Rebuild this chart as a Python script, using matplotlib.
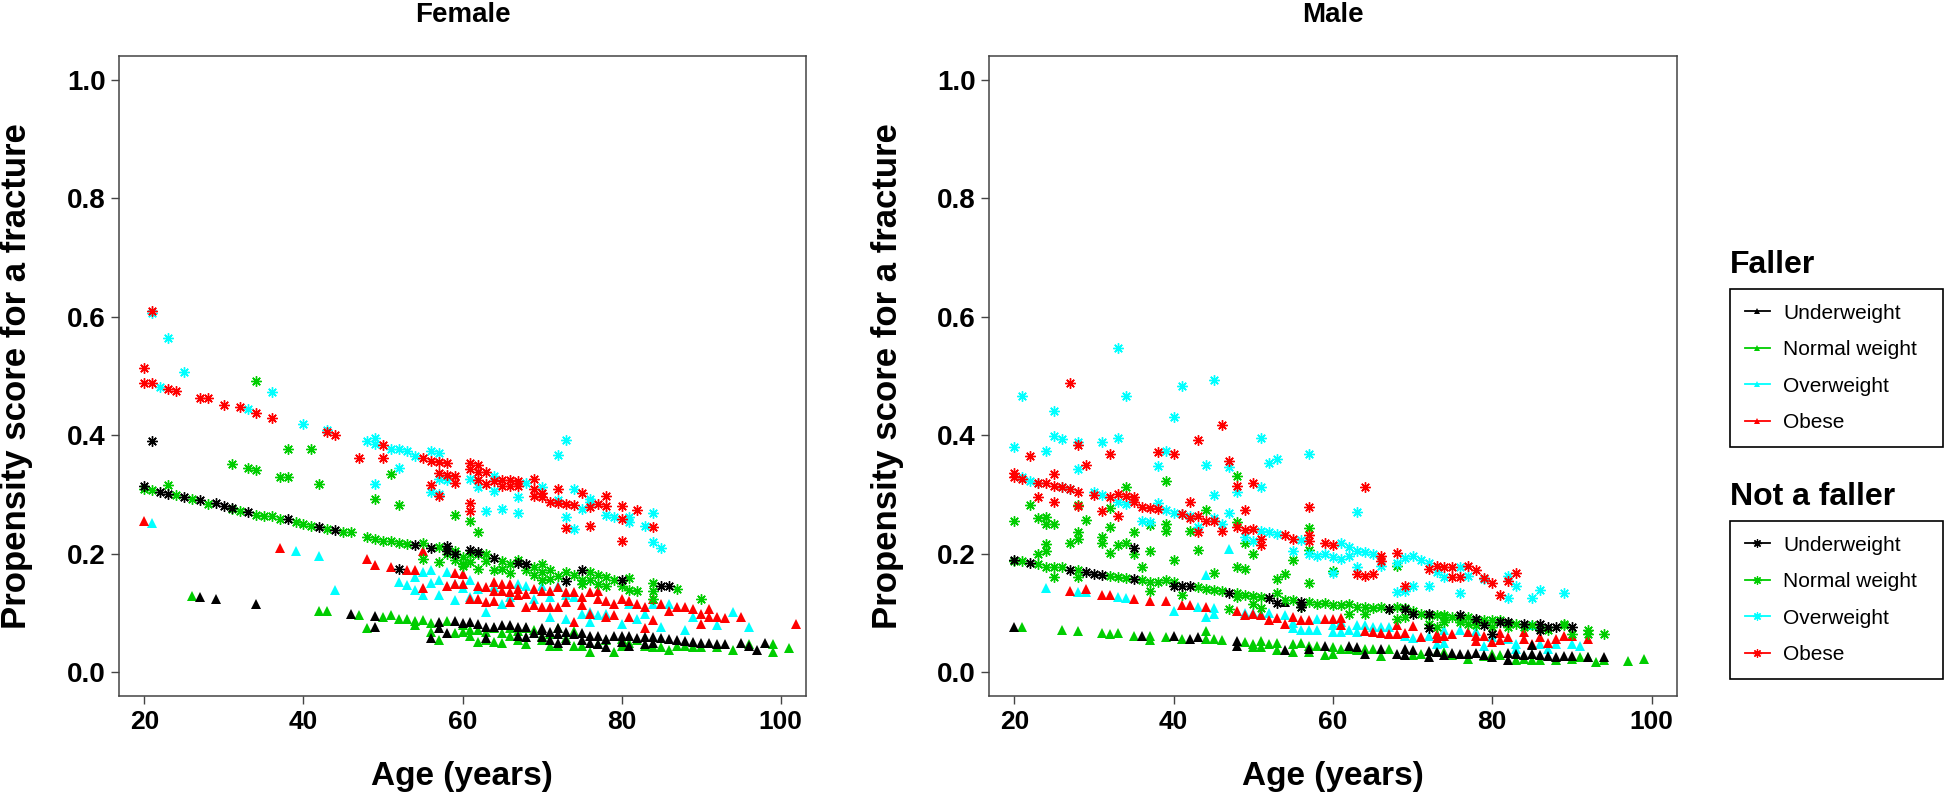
import matplotlib
matplotlib.use('Agg')
import matplotlib.pyplot as plt
from matplotlib.lines import Line2D

# %% Data: (age, propensity score) pairs

# Female, faller (triangles)
f_fall_under = [(27, .127), (29, .124), (34, .116), (46, .099), (49, .095), (49, .076), (56, .058), (57, .085),
                (57, .074), (58, .067), (60, .083), (62, .081), (66, .079), (68, .077), (70, .074), (72, .074),
                (59, .086), (61, .085), (63, .076), (63, .058), (64, .077), (65, .079), (67, .077), (67, .062),
                (68, .059), (69, .066), (70, .072), (70, .059), (71, .068), (71, .054), (72, .064), (72, .049),
                (73, .068), (73, .054), (74, .065), (75, .066), (75, .054), (76, .062), (76, .049), (77, .062),
                (77, .048), (78, .057), (78, .043), (79, .061), (80, .062), (80, .051), (81, .061), (81, .045),
                (82, .058), (83, .059), (83, .048), (84, .059), (84, .049), (85, .058), (86, .057), (87, .054),
                (88, .053), (89, .051), (90, .049), (91, .049), (92, .048), (93, .048), (95, .049), (96, .044),
                (97, .037), (98, .049)]
f_fall_normal = [(26, .128), (42, .104), (43, .103), (47, .096), (48, .074), (50, .093), (51, .096), (52, .090),
                 (53, .090), (54, .086), (54, .079), (55, .088), (56, .083), (56, .068), (57, .054), (58, .086),
                 (59, .066), (60, .079), (60, .068), (61, .072), (61, .061), (62, .072), (62, .051), (63, .068),
                 (63, .054), (64, .074), (64, .051), (65, .066), (65, .049), (66, .075), (66, .061), (67, .070),
                 (67, .054), (68, .074), (68, .048), (69, .071), (70, .061), (70, .054), (71, .065), (71, .045),
                 (72, .074), (72, .045), (73, .058), (74, .070), (74, .044), (75, .045), (76, .034), (77, .048),
                 (78, .055), (79, .034), (80, .044), (80, .057), (81, .049), (82, .055), (83, .045), (84, .043),
                 (85, .042), (86, .038), (87, .044), (88, .044), (89, .043), (90, .043), (92, .043), (94, .038),
                 (96, .047), (99, .048), (99, .034), (101, .041)]
f_fall_over = [(21, .252), (39, .204), (42, .197), (44, .139), (52, .152), (53, .148), (54, .139), (54, .160),
               (55, .130), (55, .169), (56, .172), (56, .150), (57, .155), (57, .130), (58, .169), (59, .149),
               (59, .122), (60, .143), (61, .155), (61, .127), (62, .141), (63, .102), (64, .144), (65, .116),
               (66, .127), (67, .149), (68, .146), (69, .124), (70, .145), (71, .127), (71, .093), (72, .146),
               (73, .130), (73, .090), (74, .127), (75, .099), (76, .102), (76, .085), (77, .096), (78, .099),
               (80, .082), (81, .116), (82, .090), (83, .099), (84, .116), (85, .076), (86, .116), (88, .071),
               (89, .093), (92, .079), (94, .102), (96, .077)]
f_fall_obese = [(20, .255), (37, .210), (48, .191), (49, .181), (51, .177), (53, .173), (54, .172), (55, .204),
                (55, .143), (58, .146), (59, .167), (59, .149), (60, .166), (60, .149), (61, .124), (62, .145),
                (62, .124), (63, .144), (63, .118), (64, .152), (64, .138), (64, .121), (65, .149), (65, .138),
                (66, .149), (66, .135), (66, .118), (67, .141), (67, .130), (68, .132), (68, .111), (69, .141),
                (69, .113), (70, .138), (70, .111), (71, .138), (71, .110), (72, .144), (72, .110), (73, .135),
                (73, .118), (74, .135), (74, .085), (75, .127), (75, .113), (76, .135), (76, .099), (77, .138),
                (77, .124), (78, .121), (78, .093), (79, .116), (79, .096), (80, .124), (81, .121), (81, .093),
                (82, .116), (83, .074), (83, .110), (84, .124), (84, .088), (85, .116), (86, .104), (87, .111),
                (88, .110), (89, .107), (90, .099), (90, .082), (91, .107), (91, .093), (92, .094), (93, .092),
                (95, .094), (102, .082)]

# Female, not a faller (asterisks)
f_nofall_under = [(20, .314), (21, .390), (22, .305), (23, .301), (25, .296), (27, .290), (29, .285), (30, .281),
                  (31, .278), (33, .270), (38, .258), (42, .245), (44, .240), (52, .174), (54, .214), (56, .209),
                  (58, .213), (58, .204), (59, .200), (61, .206), (62, .203), (64, .193), (67, .185), (68, .182),
                  (73, .154), (75, .173), (80, .155), (85, .146), (86, .145)]
f_nofall_normal = [(20, .310), (21, .308), (24, .300), (26, .292), (28, .284), (31, .276), (32, .272), (34, .266),
                   (35, .264), (36, .263), (37, .258), (39, .253), (40, .250), (41, .247), (43, .242), (45, .236),
                   (46, .236), (48, .228), (49, .225), (50, .222), (51, .221), (52, .219), (53, .217), (55, .218),
                   (55, .191), (57, .211), (57, .186), (58, .200), (59, .205), (60, .194), (60, .183), (61, .200),
                   (61, .186), (62, .199), (62, .175),
                   (23, .316), (34, .492), (31, .351), (33, .345), (34, .341), (37, .330), (38, .330), (38, .376),
                   (41, .376), (42, .318), (49, .292), (51, .335), (52, .283),
                   (59, .265), (61, .256), (62, .236), (59, .189), (60, .180), (63, .199), (63, .187), (64, .172),
                   (65, .187), (65, .175), (66, .183), (66, .167), (67, .190), (68, .172), (69, .178), (69, .165),
                   (70, .183), (70, .169), (70, .156), (71, .173), (71, .158), (72, .163), (73, .169), (74, .165),
                   (75, .156), (75, .149), (76, .169), (76, .155), (77, .165), (77, .149), (78, .160), (78, .146),
                   (79, .156), (80, .146), (81, .159), (81, .139), (82, .137), (84, .150), (84, .138), (84, .124),
                   (87, .141), (90, .124)]
f_nofall_over = [(21, .607), (23, .564), (22, .481), (25, .506), (33, .444), (36, .473), (40, .419), (43, .409),
                 (48, .391), (49, .396), (49, .385), (51, .377), (52, .377), (53, .373), (54, .365), (56, .373),
                 (57, .370), (56, .305), (57, .327), (58, .325), (57, .301), (52, .345), (49, .318), (61, .327),
                 (62, .312), (63, .273), (64, .306), (64, .332), (65, .275), (67, .268), (67, .295), (68, .319),
                 (70, .312), (72, .367), (72, .290), (73, .392), (73, .262), (74, .310), (74, .242), (75, .275),
                 (76, .288), (76, .293), (78, .265), (79, .262), (81, .262), (81, .253), (83, .247), (84, .268),
                 (84, .220), (85, .209)]
f_nofall_obese = [(20, .513), (20, .489), (21, .489), (21, .610), (23, .478), (24, .474), (27, .463), (28, .463),
                  (30, .451), (32, .448), (34, .437), (36, .429), (43, .405), (44, .400), (47, .361), (50, .383),
                  (50, .362), (55, .361), (56, .357), (57, .355), (58, .354), (57, .337), (58, .333), (59, .332),
                  (59, .320), (56, .316), (57, .298), (61, .354), (61, .343), (61, .285), (61, .273), (62, .350),
                  (62, .338), (62, .325), (63, .338), (63, .318), (64, .323), (65, .325), (65, .314), (66, .325),
                  (66, .315), (67, .323), (67, .314), (69, .327), (69, .310), (69, .298), (70, .302), (70, .296),
                  (71, .288), (72, .310), (72, .285), (73, .284), (73, .243), (74, .282), (75, .302), (76, .279),
                  (76, .247), (77, .284), (78, .297), (78, .280), (80, .281), (80, .258), (80, .222), (82, .274),
                  (84, .246)]

# Male, faller (triangles)
m_fall_under = [(20, .077), (36, .062), (40, .062), (42, .057), (43, .059), (48, .053), (48, .045), (54, .118),
                (54, .038), (57, .039), (59, .045), (62, .044), (63, .042), (64, .031), (66, .040), (68, .031),
                (69, .040), (69, .029), (70, .037), (72, .036), (72, .026), (73, .035), (74, .029), (75, .033),
                (76, .031), (77, .031), (78, .033), (79, .030), (80, .026), (82, .033), (82, .021), (83, .031),
                (84, .029), (85, .046), (85, .031), (86, .029), (87, .027), (88, .026), (89, .027), (90, .027),
                (92, .026), (94, .025)]
m_fall_normal = [(21, .077), (26, .071), (28, .070), (31, .066), (32, .065), (33, .066), (35, .062), (37, .061),
                 (37, .054), (39, .059), (41, .057), (44, .070), (44, .056), (45, .056), (46, .054), (49, .051),
                 (50, .048), (50, .042), (51, .053), (51, .043), (52, .047), (53, .049), (53, .038), (55, .048),
                 (55, .034), (56, .049), (57, .045), (57, .034), (58, .045), (59, .029), (60, .043), (60, .031),
                 (61, .040), (62, .039), (63, .037), (64, .040), (65, .040), (66, .027), (67, .040), (70, .029),
                 (71, .031), (73, .035), (74, .035), (75, .029), (77, .022), (79, .027), (80, .031), (81, .029),
                 (83, .021), (84, .022), (85, .021), (86, .021), (88, .021), (90, .023), (91, .025), (92, .025),
                 (93, .017), (94, .021), (97, .019), (99, .023)]
m_fall_over = [(24, .143), (28, .135), (29, .135), (33, .127), (34, .126), (40, .104), (44, .165), (43, .111),
               (44, .093), (45, .109), (45, .098), (47, .208), (49, .100), (50, .100), (51, .098), (52, .100),
               (54, .096), (55, .083), (55, .075), (56, .071), (57, .071), (58, .071), (58, .090), (60, .079),
               (60, .068), (61, .068), (61, .085), (62, .071), (63, .080), (63, .068), (64, .080), (65, .077),
               (66, .077), (67, .077), (69, .062), (70, .058), (72, .062), (73, .048), (74, .050), (74, .071),
               (76, .072), (78, .070), (79, .045), (80, .059), (82, .056), (83, .048), (83, .040), (85, .080),
               (86, .048), (87, .040), (88, .048), (90, .048), (91, .044)]
m_fall_obese = [(27, .138), (29, .141), (31, .131), (32, .130), (35, .124), (37, .121), (39, .120), (41, .114),
                (42, .113), (44, .110), (48, .104), (49, .096), (50, .099), (51, .096), (52, .089), (53, .092),
                (54, .081), (55, .094), (56, .088), (57, .088), (59, .090), (60, .090), (61, .091), (61, .079),
                (64, .070), (65, .068), (66, .066), (67, .064), (68, .064), (68, .079), (69, .066), (70, .078),
                (71, .059), (73, .065), (73, .058), (74, .062), (75, .064), (77, .068), (78, .062), (78, .053),
                (79, .061), (80, .051), (81, .066), (81, .054), (82, .059), (84, .068), (84, .057), (85, .048),
                (86, .059), (87, .049), (88, .057), (89, .061), (90, .061), (92, .057)]

# Male, not a faller (asterisks)
m_nofall_under = [(20, .190), (22, .184), (27, .173), (29, .169), (30, .166), (31, .164), (35, .210), (35, .158),
                  (40, .146), (41, .145), (42, .145), (47, .134), (52, .126), (53, .117), (56, .118), (56, .111),
                  (67, .106), (69, .106), (70, .099), (72, .099), (72, .074), (76, .096), (78, .090), (79, .079),
                  (80, .065), (81, .085), (82, .085), (84, .082), (86, .081), (86, .072), (87, .077), (88, .077),
                  (90, .076)]
m_nofall_normal = [(20, .188), (21, .187), (23, .182), (24, .178), (25, .177), (26, .177), (28, .173), (32, .163),
                   (33, .160), (34, .159), (36, .156), (37, .152), (38, .152), (39, .155), (40, .153), (43, .144),
                   (44, .141), (45, .139), (46, .137), (48, .134), (49, .131), (50, .129), (51, .127), (53, .134),
                   (54, .122), (55, .122), (57, .118), (58, .116), (59, .117), (60, .113), (61, .114),
                   (25, .160), (28, .160), (37, .137), (41, .131), (47, .106), (48, .127), (50, .116), (51, .109),
                   (53, .158), (54, .166), (57, .150), (56, .110), (60, .171),
                   (20, .255), (22, .283), (23, .260), (24, .262), (24, .251), (25, .251), (23, .200), (24, .217),
                   (24, .205), (27, .219), (28, .236), (28, .225), (28, .283), (29, .257), (31, .229), (31, .218),
                   (32, .245), (32, .201), (32, .278), (33, .214), (34, .312), (34, .218), (35, .236), (35, .199),
                   (36, .177), (37, .205), (37, .249), (39, .322), (39, .250), (39, .238), (40, .190), (42, .239),
                   (43, .207), (44, .274), (45, .167), (48, .332), (48, .253), (48, .178), (49, .175), (50, .200),
                   (49, .219), (55, .189), (57, .244), (57, .207),
                   (62, .116), (62, .099), (63, .110), (64, .111), (64, .099), (65, .109), (66, .111), (68, .111),
                   (68, .090), (69, .109), (70, .103), (71, .099), (72, .096), (73, .096), (73, .076), (74, .096),
                   (74, .085), (75, .093), (76, .090), (77, .093), (77, .082), (78, .088), (79, .088), (80, .088),
                   (80, .077), (81, .088), (82, .083), (83, .082), (84, .077), (85, .079), (86, .074), (87, .071),
                   (89, .082), (90, .065), (92, .072), (92, .065), (94, .065),
                   (67, .107), (69, .093), (72, .082), (74, .093), (76, .085), (78, .079), (82, .076), (89, .079),
                   (68, .180)]
m_nofall_over = [(33, .548), (21, .466), (34, .466), (41, .483), (45, .494), (25, .441), (40, .430), (20, .380),
                 (25, .399), (26, .393), (28, .389), (31, .388), (33, .395), (24, .373), (28, .343), (38, .348),
                 (39, .373), (44, .350), (47, .347), (51, .395), (52, .354), (53, .360), (57, .369), (51, .312),
                 (48, .304), (45, .300), (47, .268), (39, .274), (40, .268),
                 (21, .329), (22, .323), (23, .320), (26, .312), (27, .309), (30, .304), (31, .300), (33, .287),
                 (34, .284), (36, .256), (37, .253), (38, .285), (41, .267), (42, .264), (43, .246), (45, .261),
                 (46, .250), (49, .228), (50, .222), (51, .238), (52, .236), (53, .233), (55, .205), (56, .223),
                 (57, .200), (58, .197), (59, .200), (60, .167), (60, .194), (61, .191), (61, .218),
                 (62, .211), (62, .197), (63, .205), (63, .177), (63, .270), (64, .203), (65, .200), (66, .180),
                 (68, .135), (68, .184), (69, .193), (69, .138), (70, .197), (70, .145), (71, .189), (72, .184),
                 (72, .146), (73, .169), (74, .160), (76, .177), (76, .134), (77, .163), (79, .158), (82, .163),
                 (82, .126), (83, .145), (85, .126), (86, .139), (89, .134)]
m_nofall_obese = [(27, .489), (28, .384), (22, .365), (29, .350), (32, .369), (38, .371), (40, .369), (46, .418),
                  (43, .392), (47, .357), (48, .315), (50, .319), (20, .337), (20, .330), (21, .326), (23, .319),
                  (24, .319), (25, .334), (25, .315), (26, .313), (27, .309), (28, .305), (23, .295), (25, .288),
                  (28, .281), (30, .300), (31, .272), (32, .295), (33, .301), (33, .264), (34, .298), (35, .287),
                  (35, .295), (36, .279), (37, .277), (38, .276), (42, .287), (41, .267), (42, .261), (43, .264),
                  (43, .236), (44, .256), (45, .255), (46, .238), (48, .246), (49, .240), (50, .242), (49, .274),
                  (51, .225), (51, .215), (54, .232), (55, .225), (57, .279), (57, .231), (57, .221), (59, .218),
                  (60, .214),
                  (64, .312), (63, .166), (64, .162), (65, .166), (66, .197), (66, .187), (68, .201), (69, .146),
                  (72, .175), (73, .180), (74, .178), (75, .178), (75, .160), (76, .160), (77, .180), (78, .172),
                  (79, .159), (80, .150), (81, .131), (82, .154), (83, .168)]

bmi_groups = ['normal', 'over', 'obese', 'under']
bmi_labels = ['Underweight', 'Normal weight', 'Overweight', 'Obese']
x_ticks = [20, 40, 60, 80, 100]
y_ticks = [0.0, 0.2, 0.4, 0.6, 0.8, 1.0]

female_fall = {'under': f_fall_under, 'normal': f_fall_normal, 'over': f_fall_over, 'obese': f_fall_obese}
female_nofall = {'under': f_nofall_under, 'normal': f_nofall_normal, 'over': f_nofall_over, 'obese': f_nofall_obese}
male_fall = {'under': m_fall_under, 'normal': m_fall_normal, 'over': m_fall_over, 'obese': m_fall_obese}
male_nofall = {'under': m_nofall_under, 'normal': m_nofall_normal, 'over': m_nofall_over, 'obese': m_nofall_obese}

# %% Styling

plt.rcParams['font.family'] = ['Liberation Sans', 'DejaVu Sans']

colors = {'under': 'black', 'normal': '#00CD00', 'over': '#00FFFF', 'obese': '#FF0000'}
asterisk = (8, 2, 0)  # + and x overlaid, like R pch=8
axis_col = '#444444'
W, H = 1946, 796

fig = plt.figure(figsize=(W / 100, H / 100), dpi=100)
ax_f = fig.add_axes([119 / W, 100 / H, 687 / W, 640 / H])
ax_m = fig.add_axes([989 / W, 100 / H, 688 / W, 640 / H])


def draw_panel(ax, fall, nofall, title):
    for key in bmi_groups:
        ages, ps = zip(*fall[key])
        ax.plot(ages, ps, ls='none', marker='^', ms=6.5, mew=0, color=colors[key])
    for key in bmi_groups:
        ages, ps = zip(*nofall[key])
        ax.plot(ages, ps, ls='none', marker=asterisk, ms=7.5, mew=1.0, color=colors[key])
    ax.set_xlim(16.8, 103.2)
    ax.set_ylim(-0.04, 1.04)
    ax.set_xticks(x_ticks, [str(t) for t in x_ticks], fontsize=19, fontweight='bold')
    ax.set_yticks(y_ticks, ['%.1f' % t for t in y_ticks], fontsize=20, fontweight='bold')
    ax.tick_params(axis='both', length=5.8, width=1.0, color=axis_col)
    ax.tick_params(axis='x', pad=4)
    ax.tick_params(axis='y', pad=3.6)
    for sp in ax.spines.values():
        sp.set_color(axis_col)
        sp.set_linewidth(1.1)
    ax.set_title(title, fontsize=20, fontweight='bold', pad=24.5)


draw_panel(ax_f, female_fall, female_nofall, 'Female')
draw_panel(ax_m, male_fall, male_nofall, 'Male')

# Axis labels
for x_lab, x_ylab in [(462, 17), (1333, 887)]:
    fig.text(x_lab / W, 1 - 777 / H, 'Age (years)', ha='center', va='center',
             fontsize=24, fontweight='bold')
    fig.text(x_ylab / W, 1 - 376 / H, 'Propensity score for a fracture', rotation=90,
             ha='center', va='center', fontsize=25, fontweight='bold')

# %% Legends

leg_keys = ['under', 'normal', 'over', 'obese']
fall_handles = [Line2D([], [], color=colors[k], lw=1.3, marker='^', ms=5, mew=0) for k in leg_keys]
nofall_handles = [Line2D([], [], color=colors[k], lw=1.3, marker=asterisk, ms=6, mew=0.9) for k in leg_keys]

for handles, title, top, bottom in [(fall_handles, 'Faller', 289, 445),
                                    (nofall_handles, 'Not a faller', 521, 677)]:
    fig.text(1730 / W, 1 - (top - 16) / H, title, ha='left', va='baseline',
             fontsize=23, fontweight='bold')
    leg = fig.legend(handles, bmi_labels, loc='upper left', mode='expand',
                     bbox_to_anchor=(1730 / W, 1 - bottom / H, 213 / W, (bottom - top) / H),
                     borderaxespad=0, fontsize=15, borderpad=0.7, labelspacing=0.84,
                     handlelength=1.2, handletextpad=0.65, frameon=True, fancybox=False,
                     edgecolor='black', framealpha=1)
    leg.get_frame().set_linewidth(1.2)

fig.savefig('out.png', dpi=100)
